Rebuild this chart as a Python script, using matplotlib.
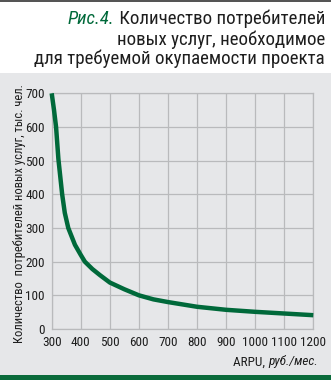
import matplotlib
matplotlib.use("Agg")
import matplotlib.pyplot as plt
from matplotlib.patches import Rectangle

# ARPU (rub/month) and required number of subscribers (thousands)
arpu = [300, 308, 315, 323, 336, 345, 357, 380, 400, 414, 440, 466, 500, 550,
        600, 650, 700, 800, 900, 1000, 1100, 1200]
users = [700, 650, 600, 505, 400, 345, 300, 250, 220, 200, 178, 160, 138, 118,
         100, 88, 80, 66, 57, 51, 46, 41]
xticks = [300, 400, 500, 600, 700, 800, 900, 1000, 1100, 1200]
yticks = [0, 100, 200, 300, 400, 500, 600, 700]

title_fig = "Рис.4."
title_lines = ["Количество потребителей", "новых услуг, необходимое",
               "для требуемой окупаемости проекта"]
ylabel = "Количество  потребителей новых услуг, тыс. чел."
xlabel_a = "ARPU, "
xlabel_b = "руб./мес."

plt.rcParams['font.family'] = ['Roboto Condensed', 'DejaVu Sans']

GREEN = "#00693a"
BG = "#e6e7e9"
GRID = "#b9babc"
TXT = "#1e1e1e"

W, H = 331, 380
fig = plt.figure(figsize=(W / 100, H / 100), dpi=100)
fig.patch.set_facecolor("white")

# background bands
fig.patches.append(Rectangle((0, 5 / H), 1, (375 - 73) / H, transform=fig.transFigure,
                             facecolor=BG, edgecolor="none", zorder=-5))
fig.patches.append(Rectangle((0, 0), 1, 5 / H, transform=fig.transFigure,
                             facecolor="#0b6b3b", edgecolor="none", zorder=-5))
fig.patches.append(Rectangle((0, 1 - 2 / H), 1, 2 / H, transform=fig.transFigure,
                             facecolor="#555555", edgecolor="none", zorder=-5))

ax = fig.add_axes([51.7 / W, 51 / H, (313.3 - 51.7) / W, (329 - 93.3) / H], zorder=2)
ax.set_facecolor(BG)
ax.plot(arpu, users, color=GREEN, lw=3.2, solid_capstyle="butt",
        solid_joinstyle="round", zorder=3, clip_on=False)
ax.set_xlim(300, 1200)
ax.set_ylim(0, 700)
ax.set_xticks(xticks)
ax.set_yticks(yticks)
ax.grid(True, color=GRID, lw=0.9)
for s in ax.spines.values():
    s.set_color(GRID)
    s.set_linewidth(0.9)
ax.tick_params(length=0, labelsize=9.5, colors=TXT, pad=5)

fig.text(20 / W, 1 - 214 / H, ylabel, rotation=90, ha="center", va="center",
         fontsize=9, color=TXT)

r = fig.canvas.get_renderer()

# x label: "ARPU, " normal + italic unit, right aligned
tb = fig.text(318 / W, 1 - 362 / H, xlabel_b, ha="right", va="center",
              fontsize=9.5, style="italic", color=TXT)
bb = tb.get_window_extent(r)
fig.text(bb.x0 / W, 1 - 362 / H, xlabel_a, ha="right", va="center",
         fontsize=9.5, color=TXT)

# title
ys = [19, 40, 59]
t1 = fig.text(325 / W, 1 - ys[0] / H, " " + title_lines[0], ha="right", va="center",
              fontsize=13.6, color=TXT)
bb = t1.get_window_extent(r)
fig.text(bb.x0 / W, 1 - ys[0] / H, title_fig, ha="right", va="center",
         fontsize=13.6, style="italic", color=GREEN)
for line, y in zip(title_lines[1:], ys[1:]):
    fig.text(325 / W, 1 - y / H, line, ha="right", va="center",
             fontsize=13.6, color=TXT)

fig.savefig("out.png", dpi=100, facecolor=fig.get_facecolor())
